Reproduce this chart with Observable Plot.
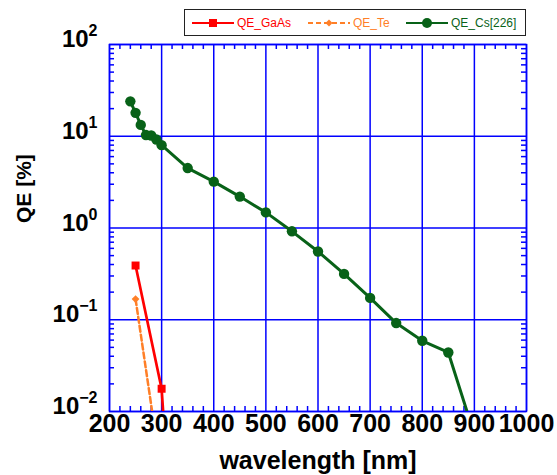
<!DOCTYPE html>
<html>
<head>
<meta charset="utf-8">
<script src="https://cdn.jsdelivr.net/npm/d3@7"></script>
<script src="https://cdn.jsdelivr.net/npm/@observablehq/plot@0.6"></script>
<style>
  body { margin: 0; background: #fff; font-family: "Liberation Sans", Arial, sans-serif; }
  #wrap { position: relative; width: 557px; height: 475px; }
  #legend { position: absolute; left: 184px; top: 9px; width: 340px; height: 25px;
            border: 1.5px solid #222; background: #fff; font-size: 12px; }
  .item { position: absolute; top: 0; height: 25px; display: flex; align-items: center; }
  .item svg { margin-right: 3px; }
</style>
</head>
<body>
<div id="wrap"></div>
<script>
// ---- data ----
const wlCs = [240, 250, 260, 270, 280, 290, 300, 350, 400, 450, 500, 550, 600, 650, 700, 750, 800, 850, 900];
const qeCs = [24, 18, 13.3, 10.3, 10.2, 9.2, 8, 4.5, 3.2, 2.2, 1.48, 0.92, 0.555, 0.316, 0.173, 0.092, 0.059, 0.044, 0.0056];
const wlGaAs = [250, 300, 350];
const qeGaAs = [0.39, 0.0177, 0.000001];
const wlTe = [250, 300];
const qeTe = [0.168, 0.002];

const seriesNames = ["QE_GaAs", "QE_Te", "QE_Cs[226]"];
const xTicks = [200, 300, 400, 500, 600, 700, 800, 900, 1000];
const yTicks = [0.01, 0.1, 1, 10, 100];
const yExponents = ["\u22122", "\u22121", "0", "1", "2"];

// ---- styles ----
const BLUE = "#0000ff";
const RED = "#ff0000";
const ORANGE = "#ff7f27";
const GREEN = "#086218";

const cs = wlCs.map((w, i) => ({w, q: qeCs[i]}));
const gaas = wlGaAs.map((w, i) => ({w, q: qeGaAs[i]}));
const te = wlTe.map((w, i) => ({w, q: qeTe[i]}));

const xMinor = d3.range(200, 1000, 20).filter(v => v % 100 !== 0);
const yMinor = [];
for (const d of [0.01, 0.1, 1, 10]) for (let k = 2; k <= 9; k++) yMinor.push(d * k);

// minor tick length ~5px: expressed in each scale's units
const yTickFactor = Math.pow(10, 5 / 91.75);
const xTickLen = 5 / 0.52;

const expMap = new Map(yTicks.map((v, i) => [v, yExponents[i]]));
const tickStyle = {stroke: BLUE, strokeWidth: 1.5};

const chart = Plot.plot({
  width: 557,
  height: 475,
  marginTop: 44,
  marginRight: 31,
  marginBottom: 64,
  marginLeft: 109,
  style: {fontFamily: "'Liberation Sans', Arial, sans-serif", color: "#000", background: "transparent"},
  x: {type: "linear", domain: [200, 1000]},
  y: {type: "log", domain: [0.01, 100]},
  marks: [
    Plot.gridX(xTicks, {stroke: BLUE, strokeOpacity: 1, strokeWidth: 1.5}),
    Plot.gridY(yTicks, {stroke: BLUE, strokeOpacity: 1, strokeWidth: 1.5}),
    Plot.frame({stroke: BLUE, strokeWidth: 1.5}),
    Plot.ruleX(xMinor, {x: d => d, y1: () => 0.01, y2: () => 0.01 * yTickFactor, ...tickStyle}),
    Plot.ruleX(xMinor, {x: d => d, y1: () => 100 / yTickFactor, y2: () => 100, ...tickStyle}),
    Plot.ruleY(yMinor, {y: d => d, x1: () => 200, x2: () => 200 + xTickLen, ...tickStyle}),
    Plot.ruleY(yMinor, {y: d => d, x1: () => 1000 - xTickLen, x2: () => 1000, ...tickStyle}),
    Plot.axisX(xTicks, {tickSize: 0, tickPadding: 3, fontSize: 25, fontWeight: "bold",
      tickFormat: d => String(d), label: null}),
    Plot.axisY(yTicks, {tickSize: 0, tickPadding: 12, fontSize: 24, fontWeight: "bold",
      tickFormat: d => "10^" + expMap.get(d), label: null, dy: -5}),
    Plot.text(["wavelength [nm]"], {frameAnchor: "bottom", dy: 49, fontSize: 25, fontWeight: "bold",
      lineAnchor: "middle", fill: "#000"}),
    Plot.text(["QE [%]"], {frameAnchor: "left", dx: -85, dy: -5, rotate: -90, fontSize: 21,
      fontWeight: "bold", lineAnchor: "middle", fill: "#000"}),
    Plot.line(te, {x: "w", y: "q", stroke: ORANGE, strokeWidth: 2.5, strokeDasharray: "6,3", clip: true}),
    Plot.dot(te, {x: "w", y: "q", symbol: "diamond2", r: 3.5, fill: ORANGE, clip: true}),
    Plot.line(gaas, {x: "w", y: "q", stroke: RED, strokeWidth: 2.7, clip: true}),
    Plot.dot(gaas, {x: "w", y: "q", symbol: "square", r: 4.5, fill: RED, clip: true}),
    Plot.line(cs, {x: "w", y: "q", stroke: GREEN, strokeWidth: 3, clip: true}),
    Plot.dot(cs, {x: "w", y: "q", r: 5.2, fill: GREEN, clip: true})
  ]
});

// superscript exponents on y tick labels
chart.querySelectorAll('g[aria-label="y-axis tick label"] text').forEach(t => {
  const s = t.textContent;
  const [base, exp] = s.split("^");
  t.textContent = base;
  const ts = document.createElementNS("http://www.w3.org/2000/svg", "tspan");
  ts.setAttribute("dy", "-11");
  ts.setAttribute("font-size", "16");
  ts.textContent = exp;
  t.appendChild(ts);
});

const wrap = document.getElementById("wrap");
wrap.appendChild(chart);

// legend
const legend = document.createElement("div");
legend.id = "legend";
const items = [
  {name: seriesNames[0], color: RED, dash: null, marker: "square", left: 7},
  {name: seriesNames[1], color: ORANGE, dash: "5,3", marker: "diamond", left: 123},
  {name: seriesNames[2], color: GREEN, dash: null, marker: "circle", left: 221}
];
for (const it of items) {
  const div = document.createElement("div");
  div.className = "item";
  div.style.left = it.left + "px";
  div.style.color = it.color;
  let m;
  if (it.marker === "square") m = `<rect x="17" y="3" width="8" height="8" fill="${it.color}"/>`;
  else if (it.marker === "diamond") m = `<path d="M21,3.5 L24.5,7 L21,10.5 L17.5,7 Z" fill="${it.color}"/>`;
  else m = `<circle cx="21" cy="7" r="5" fill="${it.color}"/>`;
  div.innerHTML = `<svg width="42" height="14"><line x1="0" y1="7" x2="42" y2="7" stroke="${it.color}" stroke-width="2"${it.dash ? ` stroke-dasharray="${it.dash}"` : ""}/>${m}</svg><span>${it.name}</span>`;
  legend.appendChild(div);
}
wrap.appendChild(legend);
</script>
</body>
</html>
